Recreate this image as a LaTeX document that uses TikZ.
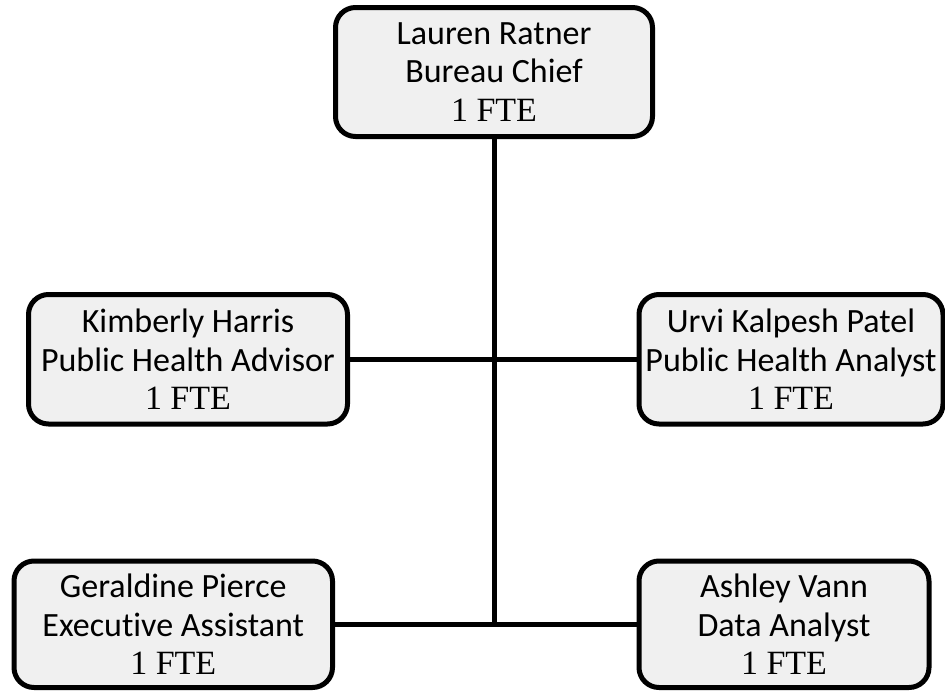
\documentclass[tikz,border=0pt]{standalone}
\usepackage{fontspec}
\setmainfont{Carlito}[Ligatures=NoCommon]
\newfontfamily\tnr{Liberation Serif}
\definecolor{boxfill}{RGB}{240,240,240}
\begin{document}
\begin{tikzpicture}[x=1pt,y=1pt,
  person/.style={draw=black, line width=5pt, fill=boxfill, rounded corners=20pt,
    align=center, inner sep=0pt, font=\fontsize{34}{38.5}\selectfont},
  link/.style={draw=black, line width=5pt}]
\useasboundingbox (0,0) rectangle (945,-691);
\clip (0,0) rectangle (945,-691);
\node[person, minimum width=317pt, minimum height=129pt] (lr) at (494,-72)
  {Lauren Ratner\\Bureau Chief\\{\tnr 1 FTE}};
\node[person, minimum width=319pt, minimum height=129.5pt] (kh) at (188,-359.25)
  {Kimberly Harris\\Public Health Advisor\\{\tnr 1 FTE}};
\node[person, minimum width=304pt, minimum height=129.5pt] (up) at (791,-359.25)
  {Urvi Kalpesh Patel\\Public Health Analyst\\{\tnr 1 FTE}};
\node[person, minimum width=318.5pt, minimum height=126.5pt] (gp) at (173.25,-624.25)
  {Geraldine Pierce\\Executive Assistant\\{\tnr 1 FTE}};
\node[person, minimum width=290pt, minimum height=126.5pt] (av) at (784,-624.25)
  {Ashley Vann\\Data Analyst\\{\tnr 1 FTE}};
\coordinate (bottomjoin) at (lr.south |- gp.east);
\draw[link] (lr.south) -- (bottomjoin);
\draw[link] (kh.east) -- (up.west);
\draw[link] (gp.east) -- (av.west);
\end{tikzpicture}
\end{document}
